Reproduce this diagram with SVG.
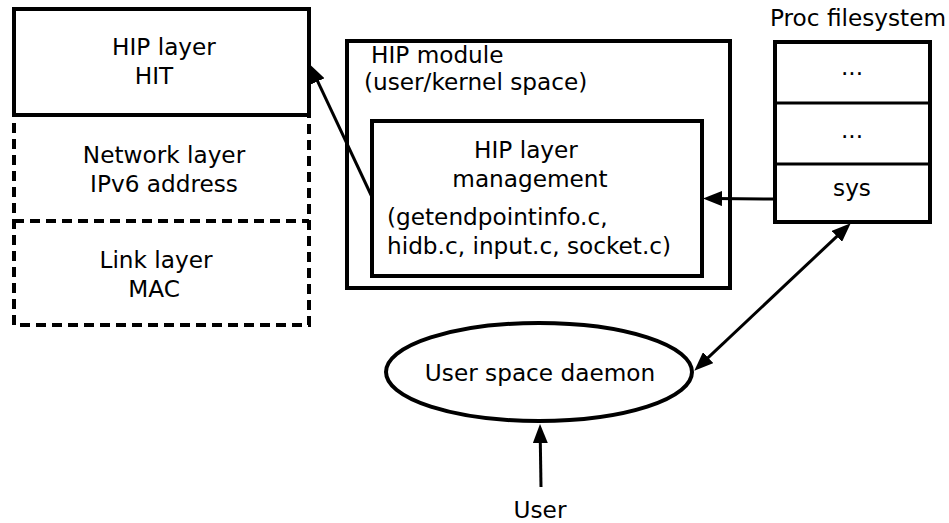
<svg xmlns="http://www.w3.org/2000/svg" width="949" height="523" viewBox="0 0 949 523">
<style>
text{font-family:"DejaVu Sans","Liberation Sans",sans-serif;font-size:23.2px;fill:#000}
.c{text-anchor:middle}
.box{fill:#fff;stroke:#000;stroke-width:4}
.dash{fill:none;stroke:#000;stroke-width:4;stroke-dasharray:10 6}
.thin{fill:none;stroke:#000;stroke-width:3}
.con{fill:none;stroke:#000;stroke-width:3}
</style>
<defs>
<marker id="ah" viewBox="0 0 19 15" markerWidth="19" markerHeight="15" refX="8" refY="7.5" orient="auto-start-reverse" markerUnits="userSpaceOnUse">
<path d="M0,0 L19,7.5 L0,15 z" fill="#000"/>
</marker>
</defs>
<rect width="949" height="523" fill="#fff"/>
<g id="layers">
<rect class="dash" x="14" y="115" width="295" height="210"/>
<line class="dash" x1="14" y1="221" x2="309" y2="221"/>
<rect class="box" x="14" y="9" width="295" height="106"/>
<text class="c" x="164" y="55">HIP layer</text>
<text class="c" x="154" y="84">HIT</text>
<text class="c" x="164" y="163">Network layer</text>
<text class="c" x="164" y="192">IPv6 address</text>
<text class="c" x="156" y="268">Link layer</text>
<text class="c" x="154" y="297">MAC</text>
</g>
<g id="hipmodule">
<rect class="box" x="347" y="41" width="383" height="247"/>
<text x="371" y="63">HIP module</text>
<text x="364" y="90">(user/kernel space)</text>
</g>
<g id="management">
<rect class="box" x="372" y="121" width="330" height="155"/>
<text class="c" x="526" y="158">HIP layer</text>
<text class="c" x="530" y="187">management</text>
<text x="387" y="225">(getendpointinfo.c,</text>
<text x="387" y="254">hidb.c, input.c, socket.c)</text>
</g>
<g id="procfs">
<text x="770" y="26">Proc filesystem</text>
<rect class="box" x="775" y="42" width="155" height="180"/>
<line class="thin" x1="775" y1="103" x2="930" y2="103"/>
<line class="thin" x1="775" y1="164" x2="930" y2="164"/>
<text class="c" x="852" y="75">...</text>
<text class="c" x="852" y="138">...</text>
<text class="c" x="852" y="196">sys</text>
</g>
<g id="daemon">
<ellipse cx="539" cy="372" rx="153" ry="49" fill="#fff" stroke="#000" stroke-width="4"/>
<text class="c" x="540" y="381">User space daemon</text>
</g>
<g id="user">
<text class="c" x="540" y="518">User</text>
</g>
<g id="connectors">
<line class="con" x1="372" y1="197" x2="314.3" y2="74.1" marker-end="url(#ah)"/>
<line class="con" x1="774" y1="199" x2="714" y2="198.5" marker-end="url(#ah)"/>
<line class="con" x1="702.3" y1="363.1" x2="842.7" y2="230.9" marker-start="url(#ah)" marker-end="url(#ah)"/>
<line class="con" x1="541" y1="487" x2="540.2" y2="435" marker-end="url(#ah)"/>
</g>
</svg>
